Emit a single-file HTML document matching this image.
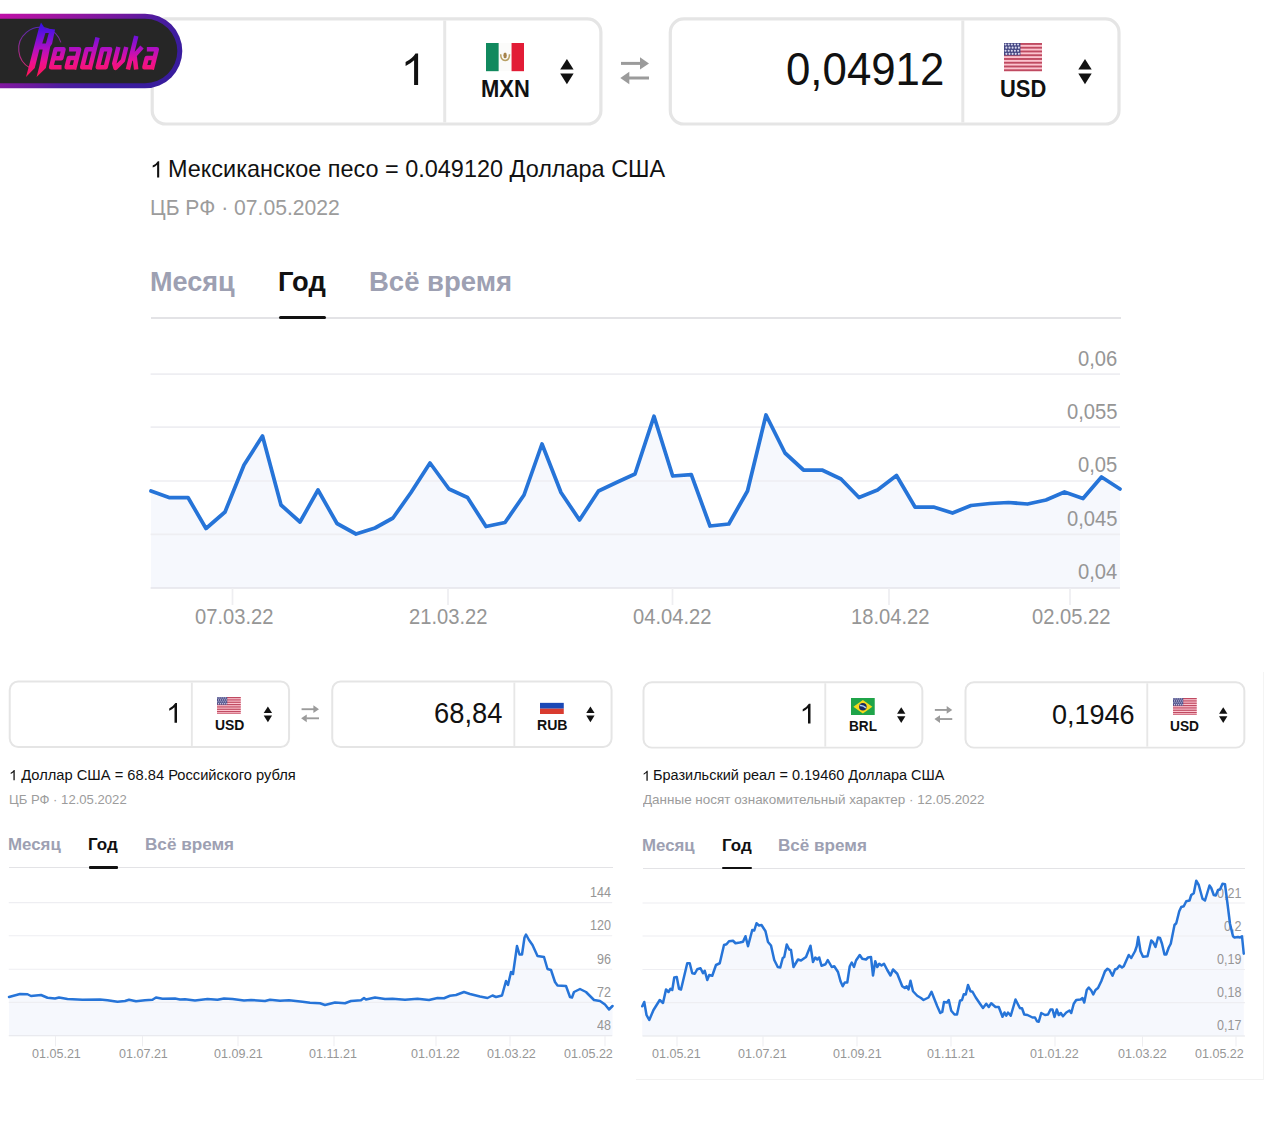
<!DOCTYPE html>
<html lang="ru"><head><meta charset="utf-8"><title>Readovka</title>
<style>
html,body{margin:0;padding:0;background:#fff;}
body{width:1280px;height:1123px;position:relative;overflow:hidden;font-family:"Liberation Sans",sans-serif;}
.a{position:absolute;display:block;}
.t{position:absolute;display:block;white-space:nowrap;line-height:1;transform-origin:0 50%;}
.box{position:absolute;border-style:solid;border-color:#e4e4e4;background:#fff;}
.dv{position:absolute;background:#e6e6e6;}
</style></head><body>

<svg class="a" style="left:0;top:0" width="1280" height="1123"><rect x="152.20" y="18.85" width="448.70" height="105.15" rx="13.50" fill="#fff" stroke="#e5e5e5" stroke-width="3.20"/><line x1="444.70" y1="20.45" x2="444.70" y2="122.40" stroke="#e7e7e7" stroke-width="3.00"/></svg>
<svg class="a" style="left:0;top:0" width="1280" height="1123"><path d="M418.10,85.00 L414.10,85.00 L414.10,60.30 Q410.50,63.80 405.60,66.00 L405.60,62.10 Q412.50,58.60 415.50,53.60 L418.10,53.60 Z" fill="#111"/></svg>
<svg class="a" style="left:485.85px;top:43.40px" width="38.20" height="28.20" viewBox="0 0 38.20 28.20"><rect width="38.20" height="28.20" fill="#fbfbfa"/><rect width="12.64" height="28.20" fill="#11895e"/><rect x="25.56" width="12.64" height="28.20" fill="#e21c36"/><path d="M14.71,11.28 Q14.71,17.48 19.10,17.48 Q23.49,17.48 23.49,11.28" fill="none" stroke="#b8a064" stroke-width="1.53"/><ellipse cx="19.10" cy="12.41" rx="1.72" ry="2.82" fill="#a5824c"/></svg>
<span class="t" style="left:480.82px;top:78.23px;font-size:23.00px;color:#111;font-weight:700;transform:scaleX(0.9538);">MXN</span>
<svg class="a" style="left:0;top:0" width="1280" height="1123"><polygon points="566.90,59.00 573.60,69.60 560.20,69.60" fill="#111"/><polygon points="566.90,84.20 573.60,73.60 560.20,73.60" fill="#111"/></svg>
<svg class="a" style="left:0;top:0" width="1280" height="1123"><line x1="621.00" y1="63.40" x2="641.50" y2="63.40" stroke="#9b9b9b" stroke-width="3.00"/><polygon points="649.00,63.40 640.00,57.20 640.00,69.60" fill="#9b9b9b"/><line x1="649.00" y1="78.00" x2="628.50" y2="78.00" stroke="#9b9b9b" stroke-width="3.00"/><polygon points="620.30,78.00 629.30,71.80 629.30,84.20" fill="#9b9b9b"/></svg>
<svg class="a" style="left:0;top:0" width="1280" height="1123"><rect x="670.30" y="18.85" width="448.70" height="105.15" rx="13.50" fill="#fff" stroke="#e5e5e5" stroke-width="3.20"/><line x1="962.80" y1="20.45" x2="962.80" y2="122.40" stroke="#e7e7e7" stroke-width="3.00"/></svg>
<span class="t" style="left:785.75px;top:47.15px;font-size:45.90px;color:#111;transform:scaleX(0.9543);">0,04912</span>
<svg class="a" style="left:1003.95px;top:43.40px" width="38.20" height="28.20" viewBox="0 0 38.20 28.20"><rect width="38.20" height="28.20" fill="#fbc4cf"/><rect y="0.00" width="38.20" height="1.88" fill="#bf4a61"/><rect y="3.76" width="38.20" height="1.88" fill="#bf4a61"/><rect y="7.52" width="38.20" height="1.88" fill="#bf4a61"/><rect y="11.28" width="38.20" height="1.88" fill="#bf4a61"/><rect y="15.04" width="38.20" height="1.88" fill="#bf4a61"/><rect y="18.80" width="38.20" height="1.88" fill="#bf4a61"/><rect y="22.56" width="38.20" height="1.88" fill="#bf4a61"/><rect y="26.32" width="38.20" height="1.88" fill="#bf4a61"/><rect width="16.43" height="12.41" fill="#454783"/><circle cx="1.56" cy="1.55" r="1.03" fill="#d9d9ee"/><circle cx="4.69" cy="1.55" r="1.03" fill="#d9d9ee"/><circle cx="7.82" cy="1.55" r="1.03" fill="#d9d9ee"/><circle cx="10.95" cy="1.55" r="1.03" fill="#d9d9ee"/><circle cx="14.08" cy="1.55" r="1.03" fill="#d9d9ee"/><circle cx="2.35" cy="4.65" r="1.03" fill="#d9d9ee"/><circle cx="5.48" cy="4.65" r="1.03" fill="#d9d9ee"/><circle cx="8.60" cy="4.65" r="1.03" fill="#d9d9ee"/><circle cx="11.73" cy="4.65" r="1.03" fill="#d9d9ee"/><circle cx="14.86" cy="4.65" r="1.03" fill="#d9d9ee"/><circle cx="1.56" cy="7.75" r="1.03" fill="#d9d9ee"/><circle cx="4.69" cy="7.75" r="1.03" fill="#d9d9ee"/><circle cx="7.82" cy="7.75" r="1.03" fill="#d9d9ee"/><circle cx="10.95" cy="7.75" r="1.03" fill="#d9d9ee"/><circle cx="14.08" cy="7.75" r="1.03" fill="#d9d9ee"/><circle cx="2.35" cy="10.86" r="1.03" fill="#d9d9ee"/><circle cx="5.48" cy="10.86" r="1.03" fill="#d9d9ee"/><circle cx="8.60" cy="10.86" r="1.03" fill="#d9d9ee"/><circle cx="11.73" cy="10.86" r="1.03" fill="#d9d9ee"/><circle cx="14.86" cy="10.86" r="1.03" fill="#d9d9ee"/></svg>
<span class="t" style="left:999.69px;top:78.23px;font-size:23.00px;color:#111;font-weight:700;transform:scaleX(0.9518);">USD</span>
<svg class="a" style="left:0;top:0" width="1280" height="1123"><polygon points="1085.00,59.00 1091.70,69.60 1078.30,69.60" fill="#111"/><polygon points="1085.00,84.20 1091.70,73.60 1078.30,73.60" fill="#111"/></svg>
<svg class="a" style="left:0;top:0" width="1280" height="1123"><path d="M159.20,177.50 L157.12,177.50 L157.12,164.64 Q155.24,166.46 152.69,167.61 L152.69,165.57 Q156.28,163.75 157.85,161.15 L159.20,161.15 Z" fill="#111"/></svg>
<span class="t" style="left:167.62px;top:157.52px;font-size:23.60px;color:#111;transform:scaleX(0.9936);">Мексиканское песо = 0.049120 Доллара США</span>
<span class="t" style="left:150.06px;top:197.47px;font-size:21.60px;color:#9c9c9c;transform:scaleX(0.9782);">ЦБ РФ · 07.05.2022</span>
<span class="t" style="left:149.99px;top:267.56px;font-size:27.40px;color:#9da0b2;font-weight:700;transform:scaleX(0.9886);">Месяц</span>
<span class="t" style="left:278.22px;top:267.56px;font-size:27.40px;color:#111;font-weight:700;transform:scaleX(0.9973);">Год</span>
<span class="t" style="left:368.71px;top:267.56px;font-size:27.40px;color:#9da0b2;font-weight:700;transform:scaleX(1.0042);">Всё время</span>
<div class="a" style="left:150.60px;top:317.40px;width:970.00px;height:1.60px;background:#e3e3e6"></div>
<div class="a" style="left:279.00px;top:315.70px;width:47.00px;height:3.60px;background:#111;border-radius:1.80px"></div>
<svg class="a" style="left:0;top:0" width="1280" height="1123"><polygon points="151.00,588.00 151.00,491.00 169.00,497.50 188.00,497.50 206.00,528.50 225.00,512.00 244.00,465.00 262.50,436.00 281.00,505.00 300.00,522.00 318.00,490.00 337.00,523.50 356.00,534.00 375.00,528.00 393.00,518.00 411.00,492.50 430.00,463.00 449.00,489.00 467.50,497.50 486.00,526.50 505.00,522.50 524.00,495.00 542.00,444.00 561.00,492.50 579.50,520.00 598.50,491.00 617.50,482.00 635.00,474.00 654.00,416.30 672.70,476.00 691.30,474.70 710.00,526.00 728.80,524.00 747.50,491.00 766.00,415.00 785.00,453.00 803.50,470.00 822.00,470.00 841.00,479.00 859.00,497.50 877.50,490.00 896.50,475.50 915.00,507.00 933.50,507.00 952.50,513.00 971.00,505.50 990.00,503.50 1008.50,502.50 1027.50,504.00 1046.00,500.00 1064.50,492.00 1083.00,498.50 1101.50,477.00 1120.00,489.00 1120.00,588.00" fill="#f6f8fd"/><line x1="150.60" y1="374.10" x2="1120.00" y2="374.10" stroke="#eeeef2" stroke-width="1.70"/><line x1="150.60" y1="427.20" x2="1120.00" y2="427.20" stroke="#eeeef2" stroke-width="1.70"/><line x1="150.60" y1="481.00" x2="1120.00" y2="481.00" stroke="#eeeef2" stroke-width="1.70"/><line x1="150.60" y1="534.30" x2="1120.00" y2="534.30" stroke="#eeeef2" stroke-width="1.70"/><line x1="150.60" y1="588.00" x2="1120.00" y2="588.00" stroke="#e4e5ea" stroke-width="1.70"/><line x1="232.50" y1="588.00" x2="232.50" y2="605.00" stroke="#eeeef1" stroke-width="1.70"/><line x1="448.00" y1="588.00" x2="448.00" y2="605.00" stroke="#eeeef1" stroke-width="1.70"/><line x1="672.50" y1="588.00" x2="672.50" y2="605.00" stroke="#eeeef1" stroke-width="1.70"/><line x1="889.00" y1="588.00" x2="889.00" y2="605.00" stroke="#eeeef1" stroke-width="1.70"/><line x1="1070.00" y1="588.00" x2="1070.00" y2="605.00" stroke="#eeeef1" stroke-width="1.70"/></svg>
<span class="t" style="left:1078.25px;top:347.52px;font-size:22.30px;color:#969696;transform:scaleX(0.9050);">0,06</span>
<span class="t" style="left:1067.05px;top:400.62px;font-size:22.30px;color:#969696;transform:scaleX(0.9050);">0,055</span>
<span class="t" style="left:1078.25px;top:454.42px;font-size:22.30px;color:#969696;transform:scaleX(0.9050);">0,05</span>
<span class="t" style="left:1067.05px;top:507.72px;font-size:22.30px;color:#969696;transform:scaleX(0.9050);">0,045</span>
<span class="t" style="left:1078.05px;top:561.42px;font-size:22.30px;color:#969696;transform:scaleX(0.9050);">0,04</span>
<span class="t" style="left:195.38px;top:605.55px;font-size:21.80px;color:#969696;transform:scaleX(0.9250);">07.03.22</span>
<span class="t" style="left:409.28px;top:605.55px;font-size:21.80px;color:#969696;transform:scaleX(0.9250);">21.03.22</span>
<span class="t" style="left:633.38px;top:605.55px;font-size:21.80px;color:#969696;transform:scaleX(0.9250);">04.04.22</span>
<span class="t" style="left:850.53px;top:605.55px;font-size:21.80px;color:#969696;transform:scaleX(0.9250);">18.04.22</span>
<span class="t" style="left:1031.88px;top:605.55px;font-size:21.80px;color:#969696;transform:scaleX(0.9250);">02.05.22</span>
<svg class="a" style="left:0;top:0" width="1280" height="1123"><polyline points="151.00,491.00 169.00,497.50 188.00,497.50 206.00,528.50 225.00,512.00 244.00,465.00 262.50,436.00 281.00,505.00 300.00,522.00 318.00,490.00 337.00,523.50 356.00,534.00 375.00,528.00 393.00,518.00 411.00,492.50 430.00,463.00 449.00,489.00 467.50,497.50 486.00,526.50 505.00,522.50 524.00,495.00 542.00,444.00 561.00,492.50 579.50,520.00 598.50,491.00 617.50,482.00 635.00,474.00 654.00,416.30 672.70,476.00 691.30,474.70 710.00,526.00 728.80,524.00 747.50,491.00 766.00,415.00 785.00,453.00 803.50,470.00 822.00,470.00 841.00,479.00 859.00,497.50 877.50,490.00 896.50,475.50 915.00,507.00 933.50,507.00 952.50,513.00 971.00,505.50 990.00,503.50 1008.50,502.50 1027.50,504.00 1046.00,500.00 1064.50,492.00 1083.00,498.50 1101.50,477.00 1120.00,489.00" fill="none" stroke="#2674d8" stroke-width="3.75" stroke-linejoin="round" stroke-linecap="round"/></svg>
<svg class="a" style="left:0;top:0" width="1280" height="1123"><rect x="9.74" y="681.48" width="279.32" height="65.46" rx="8.40" fill="#fff" stroke="#e5e5e5" stroke-width="1.99"/><line x1="191.83" y1="682.48" x2="191.83" y2="745.94" stroke="#e7e7e7" stroke-width="1.87"/></svg>
<svg class="a" style="left:0;top:0" width="1280" height="1123"><path d="M177.00,722.66 L174.51,722.66 L174.51,707.29 Q172.27,709.47 169.22,710.84 L169.22,708.41 Q173.51,706.23 175.38,703.12 L177.00,703.12 Z" fill="#111"/></svg>
<svg class="a" style="left:217.44px;top:696.77px" width="23.78" height="17.55" viewBox="0 0 23.78 17.55"><rect width="23.78" height="17.55" fill="#fbc4cf"/><rect y="0.00" width="23.78" height="1.17" fill="#bf4a61"/><rect y="2.34" width="23.78" height="1.17" fill="#bf4a61"/><rect y="4.68" width="23.78" height="1.17" fill="#bf4a61"/><rect y="7.02" width="23.78" height="1.17" fill="#bf4a61"/><rect y="9.36" width="23.78" height="1.17" fill="#bf4a61"/><rect y="11.70" width="23.78" height="1.17" fill="#bf4a61"/><rect y="14.04" width="23.78" height="1.17" fill="#bf4a61"/><rect y="16.38" width="23.78" height="1.17" fill="#bf4a61"/><rect width="10.23" height="7.72" fill="#454783"/><circle cx="0.97" cy="0.97" r="0.64" fill="#d9d9ee"/><circle cx="2.92" cy="0.97" r="0.64" fill="#d9d9ee"/><circle cx="4.87" cy="0.97" r="0.64" fill="#d9d9ee"/><circle cx="6.82" cy="0.97" r="0.64" fill="#d9d9ee"/><circle cx="8.76" cy="0.97" r="0.64" fill="#d9d9ee"/><circle cx="1.46" cy="2.90" r="0.64" fill="#d9d9ee"/><circle cx="3.41" cy="2.90" r="0.64" fill="#d9d9ee"/><circle cx="5.36" cy="2.90" r="0.64" fill="#d9d9ee"/><circle cx="7.30" cy="2.90" r="0.64" fill="#d9d9ee"/><circle cx="9.25" cy="2.90" r="0.64" fill="#d9d9ee"/><circle cx="0.97" cy="4.83" r="0.64" fill="#d9d9ee"/><circle cx="2.92" cy="4.83" r="0.64" fill="#d9d9ee"/><circle cx="4.87" cy="4.83" r="0.64" fill="#d9d9ee"/><circle cx="6.82" cy="4.83" r="0.64" fill="#d9d9ee"/><circle cx="8.76" cy="4.83" r="0.64" fill="#d9d9ee"/><circle cx="1.46" cy="6.76" r="0.64" fill="#d9d9ee"/><circle cx="3.41" cy="6.76" r="0.64" fill="#d9d9ee"/><circle cx="5.36" cy="6.76" r="0.64" fill="#d9d9ee"/><circle cx="7.30" cy="6.76" r="0.64" fill="#d9d9ee"/><circle cx="9.25" cy="6.76" r="0.64" fill="#d9d9ee"/></svg>
<span class="t" style="left:215.16px;top:718.45px;font-size:14.32px;color:#111;font-weight:700;transform:scaleX(0.9730);">USD</span>
<svg class="a" style="left:0;top:0" width="1280" height="1123"><polygon points="267.90,706.48 272.07,713.08 263.72,713.08" fill="#111"/><polygon points="267.90,722.16 272.07,715.57 263.72,715.57" fill="#111"/></svg>
<svg class="a" style="left:0;top:0" width="1280" height="1123"><line x1="301.57" y1="709.22" x2="314.33" y2="709.22" stroke="#9b9b9b" stroke-width="1.87"/><polygon points="319.00,709.22 313.40,705.36 313.40,713.08" fill="#9b9b9b"/><line x1="319.00" y1="718.31" x2="306.24" y2="718.31" stroke="#9b9b9b" stroke-width="1.87"/><polygon points="301.14,718.31 306.74,714.45 306.74,722.16" fill="#9b9b9b"/></svg>
<svg class="a" style="left:0;top:0" width="1280" height="1123"><rect x="332.26" y="681.48" width="279.32" height="65.46" rx="8.40" fill="#fff" stroke="#e5e5e5" stroke-width="1.99"/><line x1="514.34" y1="682.48" x2="514.34" y2="745.94" stroke="#e7e7e7" stroke-width="1.87"/></svg>
<span class="t" style="left:434.13px;top:699.10px;font-size:28.57px;color:#111;transform:scaleX(0.9574);">68,84</span>
<svg class="a" style="left:539.96px;top:696.77px" width="23.78" height="17.55" viewBox="0 0 23.78 17.55"><rect width="23.78" height="5.85" fill="#ffffff"/><rect y="5.85" width="23.78" height="5.85" fill="#1a48b6"/><rect y="11.70" width="23.78" height="5.85" fill="#d93b2f"/></svg>
<span class="t" style="left:536.88px;top:718.45px;font-size:14.32px;color:#111;font-weight:700;transform:scaleX(0.9856);">RUB</span>
<svg class="a" style="left:0;top:0" width="1280" height="1123"><polygon points="590.41,706.48 594.58,713.08 586.24,713.08" fill="#111"/><polygon points="590.41,722.16 594.58,715.57 586.24,715.57" fill="#111"/></svg>
<svg class="a" style="left:0;top:0" width="1280" height="1123"><path d="M14.73,780.24 L13.43,780.24 L13.43,772.24 Q12.27,773.37 10.68,774.08 L10.68,772.82 Q12.92,771.69 13.89,770.06 L14.73,770.06 Z" fill="#111"/></svg>
<span class="t" style="left:21.18px;top:767.81px;font-size:14.69px;color:#111;">Доллар США = 68.84 Российского рубля</span>
<span class="t" style="left:8.95px;top:792.67px;font-size:13.45px;color:#9c9c9c;transform:scaleX(0.9748);">ЦБ РФ · 12.05.2022</span>
<span class="t" style="left:8.37px;top:836.30px;font-size:17.06px;color:#9da0b2;font-weight:700;transform:scaleX(0.9886);">Месяц</span>
<span class="t" style="left:88.19px;top:836.30px;font-size:17.06px;color:#111;font-weight:700;transform:scaleX(0.9973);">Год</span>
<span class="t" style="left:144.52px;top:836.30px;font-size:17.06px;color:#9da0b2;font-weight:700;transform:scaleX(1.0042);">Всё время</span>
<div class="a" style="left:8.75px;top:867.11px;width:603.83px;height:1.00px;background:#e3e3e6"></div>
<div class="a" style="left:88.68px;top:866.27px;width:29.26px;height:2.24px;background:#111;border-radius:1.12px"></div>
<svg class="a" style="left:0;top:0" width="1280" height="1123"><polygon points="9.00,1035.78 9.00,997.00 20.00,994.00 27.50,994.25 31.00,996.00 41.00,995.00 47.50,997.75 55.00,998.50 59.00,997.50 67.50,999.00 82.50,999.75 100.00,999.50 107.50,1000.25 117.50,1001.75 125.00,1001.00 129.00,999.75 136.00,1001.25 145.00,1000.25 152.50,999.75 156.00,997.50 162.50,998.75 175.00,998.50 180.00,999.50 185.00,999.25 195.00,1000.50 207.50,999.00 217.50,999.75 224.00,998.50 232.50,999.00 244.00,1000.50 251.00,1000.00 265.00,1001.00 270.00,999.75 280.00,1000.75 289.00,1000.25 302.50,1001.75 310.00,1002.70 320.00,1003.25 325.00,1005.00 335.00,1002.50 345.00,1003.25 351.00,1001.00 361.00,1000.25 364.00,998.00 366.00,999.50 375.00,997.50 385.00,999.00 392.50,998.75 405.00,999.75 417.50,998.75 429.00,1000.00 437.50,998.00 444.00,998.25 450.00,995.75 456.00,995.00 464.00,992.00 470.00,994.00 480.00,996.50 487.50,998.00 492.50,995.50 496.00,997.00 502.00,995.50 506.00,981.00 508.00,985.00 511.00,972.00 513.00,974.00 517.00,946.00 519.50,954.50 522.00,954.50 524.50,937.50 526.00,934.50 529.00,940.00 532.50,945.00 537.50,956.00 544.00,957.00 547.50,969.00 551.00,970.00 555.00,982.00 557.50,985.50 566.00,986.00 570.00,997.00 572.00,997.50 574.00,992.00 580.00,989.00 586.00,992.00 594.00,1000.00 600.00,1001.00 605.00,1004.50 609.00,1009.50 612.50,1006.00 612.50,1035.78" fill="#f6f8fd"/><line x1="8.75" y1="902.63" x2="612.20" y2="902.63" stroke="#eeeef2" stroke-width="1.06"/><line x1="8.75" y1="935.68" x2="612.20" y2="935.68" stroke="#eeeef2" stroke-width="1.06"/><line x1="8.75" y1="969.17" x2="612.20" y2="969.17" stroke="#eeeef2" stroke-width="1.06"/><line x1="8.75" y1="1002.35" x2="612.20" y2="1002.35" stroke="#eeeef2" stroke-width="1.06"/><line x1="8.75" y1="1035.78" x2="612.20" y2="1035.78" stroke="#e4e5ea" stroke-width="1.06"/><line x1="55.50" y1="1035.78" x2="55.50" y2="1046.36" stroke="#eeeef1" stroke-width="1.06"/><line x1="142.50" y1="1035.78" x2="142.50" y2="1046.36" stroke="#eeeef1" stroke-width="1.06"/><line x1="238.00" y1="1035.78" x2="238.00" y2="1046.36" stroke="#eeeef1" stroke-width="1.06"/><line x1="334.00" y1="1035.78" x2="334.00" y2="1046.36" stroke="#eeeef1" stroke-width="1.06"/><line x1="436.00" y1="1035.78" x2="436.00" y2="1046.36" stroke="#eeeef1" stroke-width="1.06"/><line x1="510.00" y1="1035.78" x2="510.00" y2="1046.36" stroke="#eeeef1" stroke-width="1.06"/><line x1="605.00" y1="1035.78" x2="605.00" y2="1046.36" stroke="#eeeef1" stroke-width="1.06"/></svg>
<span class="t" style="left:589.61px;top:886.08px;font-size:13.88px;color:#969696;transform:scaleX(0.9050);">144</span>
<span class="t" style="left:589.67px;top:919.14px;font-size:13.88px;color:#969696;transform:scaleX(0.9050);">120</span>
<span class="t" style="left:596.70px;top:952.63px;font-size:13.88px;color:#969696;transform:scaleX(0.9050);">96</span>
<span class="t" style="left:596.83px;top:985.81px;font-size:13.88px;color:#969696;transform:scaleX(0.9050);">72</span>
<span class="t" style="left:596.70px;top:1019.24px;font-size:13.88px;color:#969696;transform:scaleX(0.9050);">48</span>
<span class="t" style="left:31.62px;top:1046.70px;font-size:13.57px;color:#969696;transform:scaleX(0.9250);">01.05.21</span>
<span class="t" style="left:118.62px;top:1046.70px;font-size:13.57px;color:#969696;transform:scaleX(0.9250);">01.07.21</span>
<span class="t" style="left:213.62px;top:1046.70px;font-size:13.57px;color:#969696;transform:scaleX(0.9250);">01.09.21</span>
<span class="t" style="left:309.09px;top:1046.70px;font-size:13.57px;color:#969696;transform:scaleX(0.9250);">01.11.21</span>
<span class="t" style="left:410.65px;top:1046.70px;font-size:13.57px;color:#969696;transform:scaleX(0.9250);">01.01.22</span>
<span class="t" style="left:486.65px;top:1046.70px;font-size:13.57px;color:#969696;transform:scaleX(0.9250);">01.03.22</span>
<span class="t" style="left:563.65px;top:1046.70px;font-size:13.57px;color:#969696;transform:scaleX(0.9250);">01.05.22</span>
<svg class="a" style="left:0;top:0" width="1280" height="1123"><polyline points="9.00,997.00 20.00,994.00 27.50,994.25 31.00,996.00 41.00,995.00 47.50,997.75 55.00,998.50 59.00,997.50 67.50,999.00 82.50,999.75 100.00,999.50 107.50,1000.25 117.50,1001.75 125.00,1001.00 129.00,999.75 136.00,1001.25 145.00,1000.25 152.50,999.75 156.00,997.50 162.50,998.75 175.00,998.50 180.00,999.50 185.00,999.25 195.00,1000.50 207.50,999.00 217.50,999.75 224.00,998.50 232.50,999.00 244.00,1000.50 251.00,1000.00 265.00,1001.00 270.00,999.75 280.00,1000.75 289.00,1000.25 302.50,1001.75 310.00,1002.70 320.00,1003.25 325.00,1005.00 335.00,1002.50 345.00,1003.25 351.00,1001.00 361.00,1000.25 364.00,998.00 366.00,999.50 375.00,997.50 385.00,999.00 392.50,998.75 405.00,999.75 417.50,998.75 429.00,1000.00 437.50,998.00 444.00,998.25 450.00,995.75 456.00,995.00 464.00,992.00 470.00,994.00 480.00,996.50 487.50,998.00 492.50,995.50 496.00,997.00 502.00,995.50 506.00,981.00 508.00,985.00 511.00,972.00 513.00,974.00 517.00,946.00 519.50,954.50 522.00,954.50 524.50,937.50 526.00,934.50 529.00,940.00 532.50,945.00 537.50,956.00 544.00,957.00 547.50,969.00 551.00,970.00 555.00,982.00 557.50,985.50 566.00,986.00 570.00,997.00 572.00,997.50 574.00,992.00 580.00,989.00 586.00,992.00 594.00,1000.00 600.00,1001.00 605.00,1004.50 609.00,1009.50 612.50,1006.00" fill="none" stroke="#2674d8" stroke-width="2.5" stroke-linejoin="round" stroke-linecap="round"/></svg>
<svg class="a" style="left:0;top:0" width="1280" height="1123"><rect x="643.49" y="682.27" width="278.87" height="65.35" rx="8.39" fill="#fff" stroke="#e5e5e5" stroke-width="1.99"/><line x1="825.28" y1="683.26" x2="825.28" y2="746.62" stroke="#e7e7e7" stroke-width="1.86"/></svg>
<svg class="a" style="left:0;top:0" width="1280" height="1123"><path d="M810.50,723.38 L808.01,723.38 L808.01,708.03 Q805.78,710.20 802.73,711.57 L802.73,709.15 Q807.02,706.97 808.88,703.86 L810.50,703.86 Z" fill="#111"/></svg>
<svg class="a" style="left:850.86px;top:697.52px" width="23.74" height="17.53" viewBox="0 0 23.74 17.53"><rect width="23.74" height="17.53" fill="#1fa449"/><polygon points="2.37,8.76 11.87,2.10 21.37,8.76 11.87,15.42" fill="#f7d91c"/><circle cx="11.87" cy="8.76" r="3.77" fill="#1b2a5e"/><path d="M8.78,7.54 Q11.87,7.01 14.96,9.81" stroke="#a8d0f4" stroke-width="1.58" fill="none"/></svg>
<span class="t" style="left:848.61px;top:719.17px;font-size:14.29px;color:#111;font-weight:700;transform:scaleX(0.9548);">BRL</span>
<svg class="a" style="left:0;top:0" width="1280" height="1123"><polygon points="901.23,707.22 905.39,713.81 897.06,713.81" fill="#111"/><polygon points="901.23,722.88 905.39,716.29 897.06,716.29" fill="#111"/></svg>
<svg class="a" style="left:0;top:0" width="1280" height="1123"><line x1="934.85" y1="709.95" x2="947.59" y2="709.95" stroke="#9b9b9b" stroke-width="1.86"/><polygon points="952.25,709.95 946.66,706.10 946.66,713.81" fill="#9b9b9b"/><line x1="952.25" y1="719.03" x2="939.51" y2="719.03" stroke="#9b9b9b" stroke-width="1.86"/><polygon points="934.42,719.03 940.01,715.17 940.01,722.88" fill="#9b9b9b"/></svg>
<svg class="a" style="left:0;top:0" width="1280" height="1123"><rect x="965.49" y="682.27" width="278.87" height="65.35" rx="8.39" fill="#fff" stroke="#e5e5e5" stroke-width="1.99"/><line x1="1147.28" y1="683.26" x2="1147.28" y2="746.62" stroke="#e7e7e7" stroke-width="1.86"/></svg>
<span class="t" style="left:1052.22px;top:699.85px;font-size:28.53px;color:#111;transform:scaleX(0.9469);">0,1946</span>
<svg class="a" style="left:1172.85px;top:697.52px" width="23.74" height="17.53" viewBox="0 0 23.74 17.53"><rect width="23.74" height="17.53" fill="#fbc4cf"/><rect y="0.00" width="23.74" height="1.17" fill="#bf4a61"/><rect y="2.34" width="23.74" height="1.17" fill="#bf4a61"/><rect y="4.67" width="23.74" height="1.17" fill="#bf4a61"/><rect y="7.01" width="23.74" height="1.17" fill="#bf4a61"/><rect y="9.35" width="23.74" height="1.17" fill="#bf4a61"/><rect y="11.68" width="23.74" height="1.17" fill="#bf4a61"/><rect y="14.02" width="23.74" height="1.17" fill="#bf4a61"/><rect y="16.36" width="23.74" height="1.17" fill="#bf4a61"/><rect width="10.21" height="7.71" fill="#454783"/><circle cx="0.97" cy="0.96" r="0.64" fill="#d9d9ee"/><circle cx="2.92" cy="0.96" r="0.64" fill="#d9d9ee"/><circle cx="4.86" cy="0.96" r="0.64" fill="#d9d9ee"/><circle cx="6.81" cy="0.96" r="0.64" fill="#d9d9ee"/><circle cx="8.75" cy="0.96" r="0.64" fill="#d9d9ee"/><circle cx="1.46" cy="2.89" r="0.64" fill="#d9d9ee"/><circle cx="3.40" cy="2.89" r="0.64" fill="#d9d9ee"/><circle cx="5.35" cy="2.89" r="0.64" fill="#d9d9ee"/><circle cx="7.29" cy="2.89" r="0.64" fill="#d9d9ee"/><circle cx="9.24" cy="2.89" r="0.64" fill="#d9d9ee"/><circle cx="0.97" cy="4.82" r="0.64" fill="#d9d9ee"/><circle cx="2.92" cy="4.82" r="0.64" fill="#d9d9ee"/><circle cx="4.86" cy="4.82" r="0.64" fill="#d9d9ee"/><circle cx="6.81" cy="4.82" r="0.64" fill="#d9d9ee"/><circle cx="8.75" cy="4.82" r="0.64" fill="#d9d9ee"/><circle cx="1.46" cy="6.75" r="0.64" fill="#d9d9ee"/><circle cx="3.40" cy="6.75" r="0.64" fill="#d9d9ee"/><circle cx="5.35" cy="6.75" r="0.64" fill="#d9d9ee"/><circle cx="7.29" cy="6.75" r="0.64" fill="#d9d9ee"/><circle cx="9.24" cy="6.75" r="0.64" fill="#d9d9ee"/></svg>
<span class="t" style="left:1169.68px;top:719.17px;font-size:14.29px;color:#111;font-weight:700;transform:scaleX(0.9606);">USD</span>
<svg class="a" style="left:0;top:0" width="1280" height="1123"><polygon points="1223.23,707.22 1227.39,713.81 1219.06,713.81" fill="#111"/><polygon points="1223.23,722.88 1227.39,716.29 1219.06,716.29" fill="#111"/></svg>
<svg class="a" style="left:0;top:0" width="1280" height="1123"><path d="M647.72,780.87 L646.43,780.87 L646.43,772.87 Q645.26,774.00 643.68,774.72 L643.68,773.45 Q645.91,772.32 646.88,770.70 L647.72,770.70 Z" fill="#111"/></svg>
<span class="t" style="left:653.34px;top:768.45px;font-size:14.67px;color:#111;transform:scaleX(0.9876);">Бразильский реал = 0.19460 Доллара США</span>
<span class="t" style="left:642.93px;top:793.27px;font-size:13.42px;color:#9c9c9c;transform:scaleX(1.0039);">Данные носят ознакомительный характер · 12.05.2022</span>
<span class="t" style="left:642.12px;top:836.84px;font-size:17.03px;color:#9da0b2;font-weight:700;transform:scaleX(0.9886);">Месяц</span>
<span class="t" style="left:721.82px;top:836.84px;font-size:17.03px;color:#111;font-weight:700;transform:scaleX(0.9973);">Год</span>
<span class="t" style="left:778.05px;top:836.84px;font-size:17.03px;color:#9da0b2;font-weight:700;transform:scaleX(1.0042);">Всё время</span>
<div class="a" style="left:642.50px;top:867.59px;width:602.86px;height:1.00px;background:#e3e3e6"></div>
<div class="a" style="left:722.30px;top:866.76px;width:29.21px;height:2.24px;background:#111;border-radius:1.12px"></div>
<svg class="a" style="left:0;top:0" width="1280" height="1123"><polygon points="642.25,1035.99 642.25,1006.25 644.25,1002.00 646.50,1015.00 649.25,1020.00 653.50,1010.00 659.75,1000.00 663.00,1003.00 666.00,989.50 668.50,992.00 670.50,988.75 672.25,990.00 674.25,977.50 676.75,977.00 679.00,988.75 681.00,989.50 687.25,963.25 689.75,963.25 692.25,973.25 694.75,973.75 697.25,969.25 700.50,968.25 703.00,973.25 704.75,970.75 707.25,980.00 709.25,975.00 712.25,975.75 716.00,965.00 719.75,963.25 724.00,945.00 726.50,944.25 729.00,941.25 733.00,940.75 735.50,943.25 739.75,942.50 743.00,941.75 745.50,936.25 748.00,946.25 752.25,930.00 754.25,930.50 756.50,923.25 759.00,925.50 761.50,925.00 765.50,931.25 768.00,942.00 771.00,945.50 774.25,960.00 777.75,967.00 780.25,967.50 782.75,958.00 784.25,957.00 786.75,944.50 789.25,949.50 791.00,950.00 793.50,967.00 798.00,959.50 801.00,960.50 806.00,957.00 810.50,945.75 813.00,962.00 815.25,957.50 817.25,959.50 819.25,957.50 821.50,965.75 825.50,964.25 827.75,960.00 831.75,967.00 834.25,966.25 838.00,972.00 840.50,981.25 842.75,986.25 844.75,982.50 847.25,982.50 849.75,966.25 851.75,962.50 854.00,967.00 856.00,960.50 859.75,955.00 862.25,958.75 866.00,959.50 868.00,957.50 871.00,957.00 873.00,975.50 875.25,961.25 877.25,967.00 879.25,963.75 881.50,965.50 884.00,963.75 887.25,970.00 890.50,975.50 893.00,969.50 897.25,973.75 902.25,986.25 904.75,988.00 906.75,986.25 908.50,989.50 910.50,980.75 913.00,991.25 917.25,995.75 921.00,998.00 923.50,1000.00 928.50,997.50 931.50,991.75 934.75,1000.00 937.25,1006.25 940.25,1013.00 942.25,1012.00 944.00,1002.00 947.00,1002.50 948.75,1000.00 951.25,1010.75 954.50,1014.50 957.00,1014.50 960.00,1000.75 962.00,1000.00 963.75,994.25 965.75,994.50 968.00,985.00 970.50,991.25 972.50,991.75 975.75,997.50 980.00,1003.75 983.00,1008.00 986.25,1003.75 988.75,1007.00 991.25,1003.25 995.50,1007.00 998.75,1007.00 1002.50,1016.75 1004.50,1012.50 1006.25,1015.75 1008.00,1012.50 1010.75,1015.75 1015.50,999.50 1020.00,1008.25 1022.00,1008.25 1024.25,1014.50 1027.50,1015.00 1032.50,1017.50 1035.00,1017.50 1037.00,1021.25 1038.75,1021.75 1041.25,1013.00 1045.00,1015.00 1048.00,1014.50 1050.50,1009.50 1052.50,1009.50 1054.50,1017.00 1056.75,1009.50 1058.75,1015.00 1060.75,1013.00 1063.00,1016.25 1066.25,1012.50 1069.50,1010.50 1071.25,1013.00 1073.75,1003.75 1076.25,1000.00 1080.50,999.50 1082.50,998.00 1084.25,1002.50 1086.75,990.00 1088.75,987.50 1091.25,990.50 1093.25,994.50 1095.50,990.00 1098.00,988.00 1101.25,981.25 1105.00,971.25 1107.50,968.75 1109.50,970.00 1112.50,975.75 1115.00,969.50 1117.00,968.75 1119.50,965.50 1122.00,967.50 1123.75,966.25 1128.75,955.00 1131.25,958.00 1135.00,951.25 1136.75,946.25 1138.25,937.00 1140.50,951.25 1143.00,956.75 1147.50,956.25 1151.25,940.50 1153.25,942.50 1155.50,947.00 1158.00,937.50 1160.00,938.00 1162.00,943.75 1164.50,954.50 1166.25,954.50 1168.75,947.50 1170.75,943.75 1174.50,925.00 1176.25,923.25 1179.25,911.25 1181.25,907.00 1183.75,906.25 1186.25,901.25 1189.50,900.50 1191.25,895.00 1193.75,893.25 1196.25,880.75 1198.75,885.00 1202.50,898.75 1205.00,900.50 1209.50,885.50 1211.25,888.00 1213.75,895.00 1215.75,895.50 1218.00,890.00 1220.00,889.50 1222.50,883.75 1225.00,884.25 1227.50,903.75 1230.00,923.75 1233.00,936.25 1234.50,937.50 1238.00,937.00 1240.00,937.50 1242.00,936.25 1243.75,953.75 1243.75,1035.99" fill="#f6f8fd"/><line x1="642.50" y1="903.05" x2="1244.98" y2="903.05" stroke="#eeeef2" stroke-width="1.06"/><line x1="642.50" y1="936.05" x2="1244.98" y2="936.05" stroke="#eeeef2" stroke-width="1.06"/><line x1="642.50" y1="969.49" x2="1244.98" y2="969.49" stroke="#eeeef2" stroke-width="1.06"/><line x1="642.50" y1="1002.62" x2="1244.98" y2="1002.62" stroke="#eeeef2" stroke-width="1.06"/><line x1="642.50" y1="1035.99" x2="1244.98" y2="1035.99" stroke="#e4e5ea" stroke-width="1.06"/><line x1="677.00" y1="1035.99" x2="677.00" y2="1046.56" stroke="#eeeef1" stroke-width="1.06"/><line x1="763.00" y1="1035.99" x2="763.00" y2="1046.56" stroke="#eeeef1" stroke-width="1.06"/><line x1="857.00" y1="1035.99" x2="857.00" y2="1046.56" stroke="#eeeef1" stroke-width="1.06"/><line x1="951.00" y1="1035.99" x2="951.00" y2="1046.56" stroke="#eeeef1" stroke-width="1.06"/><line x1="1055.00" y1="1035.99" x2="1055.00" y2="1046.56" stroke="#eeeef1" stroke-width="1.06"/><line x1="1142.50" y1="1035.99" x2="1142.50" y2="1046.56" stroke="#eeeef1" stroke-width="1.06"/><line x1="1236.00" y1="1035.99" x2="1236.00" y2="1046.56" stroke="#eeeef1" stroke-width="1.06"/></svg>
<span class="t" style="left:1216.60px;top:886.54px;font-size:13.86px;color:#969696;transform:scaleX(0.9050);">0,21</span>
<span class="t" style="left:1223.62px;top:919.54px;font-size:13.86px;color:#969696;transform:scaleX(0.9050);">0,2</span>
<span class="t" style="left:1216.60px;top:952.97px;font-size:13.86px;color:#969696;transform:scaleX(0.9050);">0,19</span>
<span class="t" style="left:1216.54px;top:986.10px;font-size:13.86px;color:#969696;transform:scaleX(0.9050);">0,18</span>
<span class="t" style="left:1216.66px;top:1019.47px;font-size:13.86px;color:#969696;transform:scaleX(0.9050);">0,17</span>
<span class="t" style="left:651.66px;top:1046.90px;font-size:13.55px;color:#969696;transform:scaleX(0.9250);">01.05.21</span>
<span class="t" style="left:737.66px;top:1046.90px;font-size:13.55px;color:#969696;transform:scaleX(0.9250);">01.07.21</span>
<span class="t" style="left:832.66px;top:1046.90px;font-size:13.55px;color:#969696;transform:scaleX(0.9250);">01.09.21</span>
<span class="t" style="left:927.13px;top:1046.90px;font-size:13.55px;color:#969696;transform:scaleX(0.9250);">01.11.21</span>
<span class="t" style="left:1030.19px;top:1046.90px;font-size:13.55px;color:#969696;transform:scaleX(0.9250);">01.01.22</span>
<span class="t" style="left:1118.19px;top:1046.90px;font-size:13.55px;color:#969696;transform:scaleX(0.9250);">01.03.22</span>
<span class="t" style="left:1194.69px;top:1046.90px;font-size:13.55px;color:#969696;transform:scaleX(0.9250);">01.05.22</span>
<svg class="a" style="left:0;top:0" width="1280" height="1123"><polyline points="642.25,1006.25 644.25,1002.00 646.50,1015.00 649.25,1020.00 653.50,1010.00 659.75,1000.00 663.00,1003.00 666.00,989.50 668.50,992.00 670.50,988.75 672.25,990.00 674.25,977.50 676.75,977.00 679.00,988.75 681.00,989.50 687.25,963.25 689.75,963.25 692.25,973.25 694.75,973.75 697.25,969.25 700.50,968.25 703.00,973.25 704.75,970.75 707.25,980.00 709.25,975.00 712.25,975.75 716.00,965.00 719.75,963.25 724.00,945.00 726.50,944.25 729.00,941.25 733.00,940.75 735.50,943.25 739.75,942.50 743.00,941.75 745.50,936.25 748.00,946.25 752.25,930.00 754.25,930.50 756.50,923.25 759.00,925.50 761.50,925.00 765.50,931.25 768.00,942.00 771.00,945.50 774.25,960.00 777.75,967.00 780.25,967.50 782.75,958.00 784.25,957.00 786.75,944.50 789.25,949.50 791.00,950.00 793.50,967.00 798.00,959.50 801.00,960.50 806.00,957.00 810.50,945.75 813.00,962.00 815.25,957.50 817.25,959.50 819.25,957.50 821.50,965.75 825.50,964.25 827.75,960.00 831.75,967.00 834.25,966.25 838.00,972.00 840.50,981.25 842.75,986.25 844.75,982.50 847.25,982.50 849.75,966.25 851.75,962.50 854.00,967.00 856.00,960.50 859.75,955.00 862.25,958.75 866.00,959.50 868.00,957.50 871.00,957.00 873.00,975.50 875.25,961.25 877.25,967.00 879.25,963.75 881.50,965.50 884.00,963.75 887.25,970.00 890.50,975.50 893.00,969.50 897.25,973.75 902.25,986.25 904.75,988.00 906.75,986.25 908.50,989.50 910.50,980.75 913.00,991.25 917.25,995.75 921.00,998.00 923.50,1000.00 928.50,997.50 931.50,991.75 934.75,1000.00 937.25,1006.25 940.25,1013.00 942.25,1012.00 944.00,1002.00 947.00,1002.50 948.75,1000.00 951.25,1010.75 954.50,1014.50 957.00,1014.50 960.00,1000.75 962.00,1000.00 963.75,994.25 965.75,994.50 968.00,985.00 970.50,991.25 972.50,991.75 975.75,997.50 980.00,1003.75 983.00,1008.00 986.25,1003.75 988.75,1007.00 991.25,1003.25 995.50,1007.00 998.75,1007.00 1002.50,1016.75 1004.50,1012.50 1006.25,1015.75 1008.00,1012.50 1010.75,1015.75 1015.50,999.50 1020.00,1008.25 1022.00,1008.25 1024.25,1014.50 1027.50,1015.00 1032.50,1017.50 1035.00,1017.50 1037.00,1021.25 1038.75,1021.75 1041.25,1013.00 1045.00,1015.00 1048.00,1014.50 1050.50,1009.50 1052.50,1009.50 1054.50,1017.00 1056.75,1009.50 1058.75,1015.00 1060.75,1013.00 1063.00,1016.25 1066.25,1012.50 1069.50,1010.50 1071.25,1013.00 1073.75,1003.75 1076.25,1000.00 1080.50,999.50 1082.50,998.00 1084.25,1002.50 1086.75,990.00 1088.75,987.50 1091.25,990.50 1093.25,994.50 1095.50,990.00 1098.00,988.00 1101.25,981.25 1105.00,971.25 1107.50,968.75 1109.50,970.00 1112.50,975.75 1115.00,969.50 1117.00,968.75 1119.50,965.50 1122.00,967.50 1123.75,966.25 1128.75,955.00 1131.25,958.00 1135.00,951.25 1136.75,946.25 1138.25,937.00 1140.50,951.25 1143.00,956.75 1147.50,956.25 1151.25,940.50 1153.25,942.50 1155.50,947.00 1158.00,937.50 1160.00,938.00 1162.00,943.75 1164.50,954.50 1166.25,954.50 1168.75,947.50 1170.75,943.75 1174.50,925.00 1176.25,923.25 1179.25,911.25 1181.25,907.00 1183.75,906.25 1186.25,901.25 1189.50,900.50 1191.25,895.00 1193.75,893.25 1196.25,880.75 1198.75,885.00 1202.50,898.75 1205.00,900.50 1209.50,885.50 1211.25,888.00 1213.75,895.00 1215.75,895.50 1218.00,890.00 1220.00,889.50 1222.50,883.75 1225.00,884.25 1227.50,903.75 1230.00,923.75 1233.00,936.25 1234.50,937.50 1238.00,937.00 1240.00,937.50 1242.00,936.25 1243.75,953.75" fill="none" stroke="#2674d8" stroke-width="2.5" stroke-linejoin="round" stroke-linecap="round"/></svg>
<div class="a" style="left:636px;top:1078.6px;width:628px;height:1.6px;background:#f1f1f1"></div>
<div class="a" style="left:1262.8px;top:672px;width:1.6px;height:408px;background:#f4f4f4"></div>
<svg class="a" style="left:0;top:0" width="200" height="100" viewBox="0 0 200 100">
<defs>
<linearGradient id="lb" x1="0" y1="14" x2="100" y2="154" gradientUnits="userSpaceOnUse">
<stop offset="0" stop-color="#c010a8"/><stop offset="0.15" stop-color="#a814a2"/><stop offset="0.30" stop-color="#8a17a0"/><stop offset="0.45" stop-color="#6a199e"/><stop offset="0.55" stop-color="#4c1c9e"/><stop offset="0.7" stop-color="#3c1c9e"/><stop offset="1" stop-color="#351c9c"/></linearGradient>
<linearGradient id="lt" x1="0" y1="22" x2="0" y2="77" gradientUnits="userSpaceOnUse">
<stop offset="0" stop-color="#3010e8"/><stop offset="0.25" stop-color="#6a10dc"/><stop offset="0.5" stop-color="#b40fc0"/><stop offset="0.72" stop-color="#ec1094"/><stop offset="1" stop-color="#ff1650"/></linearGradient>
<linearGradient id="lt2" x1="0" y1="-47.9" x2="0" y2="7.1" gradientUnits="userSpaceOnUse">
<stop offset="0" stop-color="#3010e8"/><stop offset="0.25" stop-color="#6a10dc"/><stop offset="0.5" stop-color="#b40fc0"/><stop offset="0.72" stop-color="#ec1094"/><stop offset="1" stop-color="#ff1650"/></linearGradient>
<linearGradient id="lc" x1="0" y1="28" x2="0" y2="70" gradientUnits="userSpaceOnUse">
<stop offset="0" stop-color="#5a2ab0"/><stop offset="1" stop-color="#d62a6a"/></linearGradient>
</defs>
<path d="M-10,13.7 H145 A37.3,37.3 0 0 1 145,88.3 H-10 Z" fill="url(#lb)"/>
<path d="M-10,18.7 H145 A32.3,32.3 0 0 1 145,83.3 H-10 Z" fill="#262626"/>
<path d="M60.84,42.33 A21.6,21.6 0 1 0 30.16,68.07" fill="none" stroke="url(#lc)" stroke-width="1.1"/>
<path fill="url(#lt)" fill-rule="evenodd" d="M41,22.6 L44.75,28.2 L55.06,29.4 L52.1,43.8 L50.25,46.6 L45.9,67.9 L36.6,76.9 L39.4,66 L42.7,49.5 L39.4,49.5 L34.75,67.9 L26,76.9 L29.1,65.4 L38.8,28.5 Z M45.4,32.9 L48.8,32.9 L45.9,43.5 L42.25,43.5 Z"/>
<path d="M61.56,67.25 L51.11,67.25 L55.61,49.25 L63.51,49.25 L61.25,58.30 L53.35,58.30  M69.11,49.25 L79.06,49.25 L74.00,69.50 M76.85,58.10 L68.95,58.10 L66.66,67.25 L74.56,67.25  M82.21,67.25 L86.71,49.25 L94.61,49.25 L90.11,67.25 Z M89.55,69.50 L97.55,37.50  M97.76,67.25 L102.26,49.25 L110.16,49.25 L105.66,67.25 Z  M118.37,47.00 L114.25,63.50 L115.50,67.90 L122.90,60.50 L126.27,47.00  M127.90,69.50 L136.27,36.00 M130.27,60.00 L142.02,47.00 M134.62,56.00 L136.20,69.50  M146.86,49.25 L156.81,49.25 L151.75,69.50 M154.60,58.10 L146.70,58.10 L144.41,67.25 L152.31,67.25 " fill="none" stroke="url(#lt)" stroke-width="4.5" stroke-linejoin="round" stroke-linecap="butt"/>
</svg>
</body></html>
